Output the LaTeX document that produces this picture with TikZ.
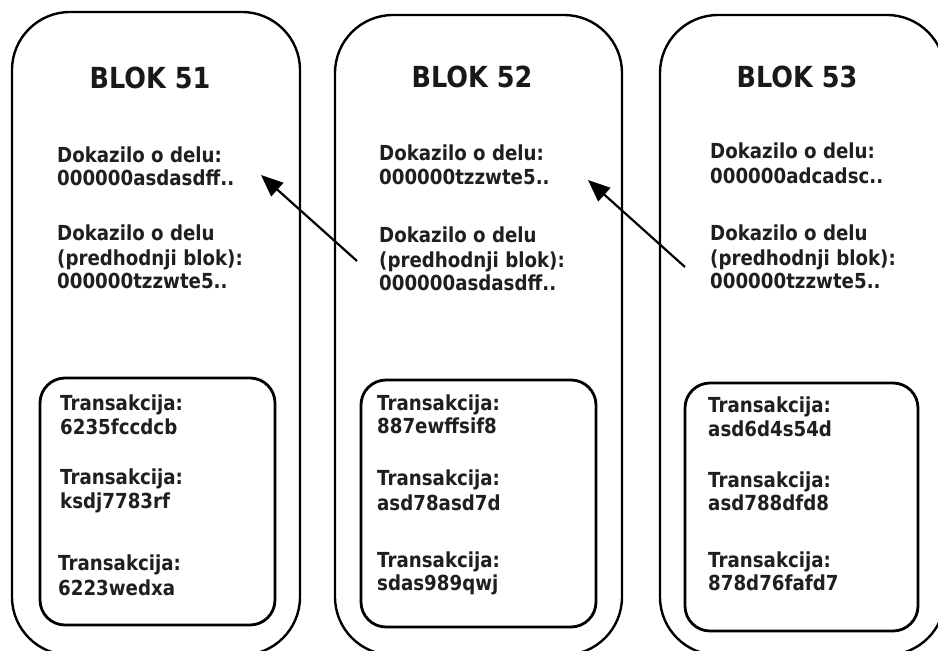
\documentclass[tikz,border=0pt]{standalone}
\usepackage{fontspec}
\setmainfont{DejaVu Sans}[FakeStretch=0.88]
\usetikzlibrary{arrows.meta}
\tikzset{
  outerbox/.style={draw=black, line width=2.4pt, rounded corners=58pt, inner sep=0pt},
  innerbox/.style={draw=black, line width=2.8pt, rounded corners=25pt, inner sep=0pt},
  title/.style={anchor=base, inner sep=0pt, font=\bfseries\fontsize{29}{31}\selectfont, text=black!90},
  txt/.style={anchor=base west, inner sep=0pt, font=\bfseries\fontsize{20.7}{22}\selectfont, text=black!88},
  link/.style={line width=2.2pt, -{Triangle[length=22pt, width=18pt]}}
}
\begin{document}
\begin{tikzpicture}[x=1pt, y=-1pt]
\useasboundingbox (0,0) rectangle (938,651);
\clip (0,0) rectangle (938,651);
\fill[white] (0,0) rectangle (938,651);

% outer blocks
\node[outerbox, minimum width=288pt, minimum height=643pt] (B1) at (156,333.5) {};
\node[outerbox, minimum width=287pt, minimum height=640pt] (B2) at (478.5,335) {};
\node[outerbox, minimum width=285pt, minimum height=640pt] (B3) at (802.5,335) {};

% inner transaction boxes
\node[innerbox, minimum width=235pt, minimum height=247pt] (I1) at (157.5,501.5) {};
\node[innerbox, minimum width=235pt, minimum height=247pt] (I2) at (478.5,503.5) {};
\node[innerbox, minimum width=233pt, minimum height=248pt] (I3) at (801.5,507) {};

% titles
\node[title] (T1) at (150,88) {BLOK 51};
\node[title] (T2) at (472,87) {BLOK 52};
\node[title] (T3) at (797,87) {BLOK 53};

% block 51
\node[txt] (a1) at (57,162) {Dokazilo o delu:};
\node[txt] (a2) at (57,185) {000000asdasdff..};
\node[txt] (a3) at (57,240) {Dokazilo o delu};
\node[txt] (a4) at (57,265) {(predhodnji blok):};
\node[txt] (a5) at (57,288) {000000tzzwte5..};
\node[txt] (at1) at (60,410) {Transakcija:};
\node[txt] (at2) at (60,434) {6235fccdcb};
\node[txt] (at3) at (60,484) {Transakcija:};
\node[txt] (at4) at (60,508) {ksdj7783rf};
\node[txt] (at5) at (58,570) {Transakcija:};
\node[txt] (at6) at (58,595) {6223wedxa};

% block 52
\node[txt] (b1) at (379,160) {Dokazilo o delu:};
\node[txt] (b2) at (379,184) {000000tzzwte5..};
\node[txt] (b3) at (379,242) {Dokazilo o delu};
\node[txt] (b4) at (379,267) {(predhodnji blok):};
\node[txt] (b5) at (379,290) {000000asdasdff..};
\node[txt] (bt1) at (377,410) {Transakcija:};
\node[txt] (bt2) at (377,433) {887ewffsif8};
\node[txt] (bt3) at (377,485) {Transakcija:};
\node[txt] (bt4) at (377,510) {asd78asd7d};
\node[txt] (bt5) at (377,567) {Transakcija:};
\node[txt] (bt6) at (377,590) {sdas989qwj};

% block 53
\node[txt] (c1) at (710,158) {Dokazilo o delu:};
\node[txt] (c2) at (710,183) {000000adcadsc..};
\node[txt] (c3) at (710,240) {Dokazilo o delu};
\node[txt] (c4) at (710,265) {(predhodnji blok):};
\node[txt] (c5) at (710,288) {000000tzzwte5..};
\node[txt] (ct1) at (708,412) {Transakcija:};
\node[txt] (ct2) at (708,436) {asd6d4s54d};
\node[txt] (ct3) at (708,487) {Transakcija:};
\node[txt] (ct4) at (708,510) {asd788dfd8};
\node[txt] (ct5) at (708,567) {Transakcija:};
\node[txt] (ct6) at (708,590) {878d76fafd7};

% arrows
\coordinate (s1) at (357,261);
\coordinate (t1) at (261,175);
\coordinate (s2) at (685,267);
\coordinate (t2) at (588,180);
\draw[link] (s1) -- (t1);
\draw[link] (s2) -- (t2);
\end{tikzpicture}
\end{document}
